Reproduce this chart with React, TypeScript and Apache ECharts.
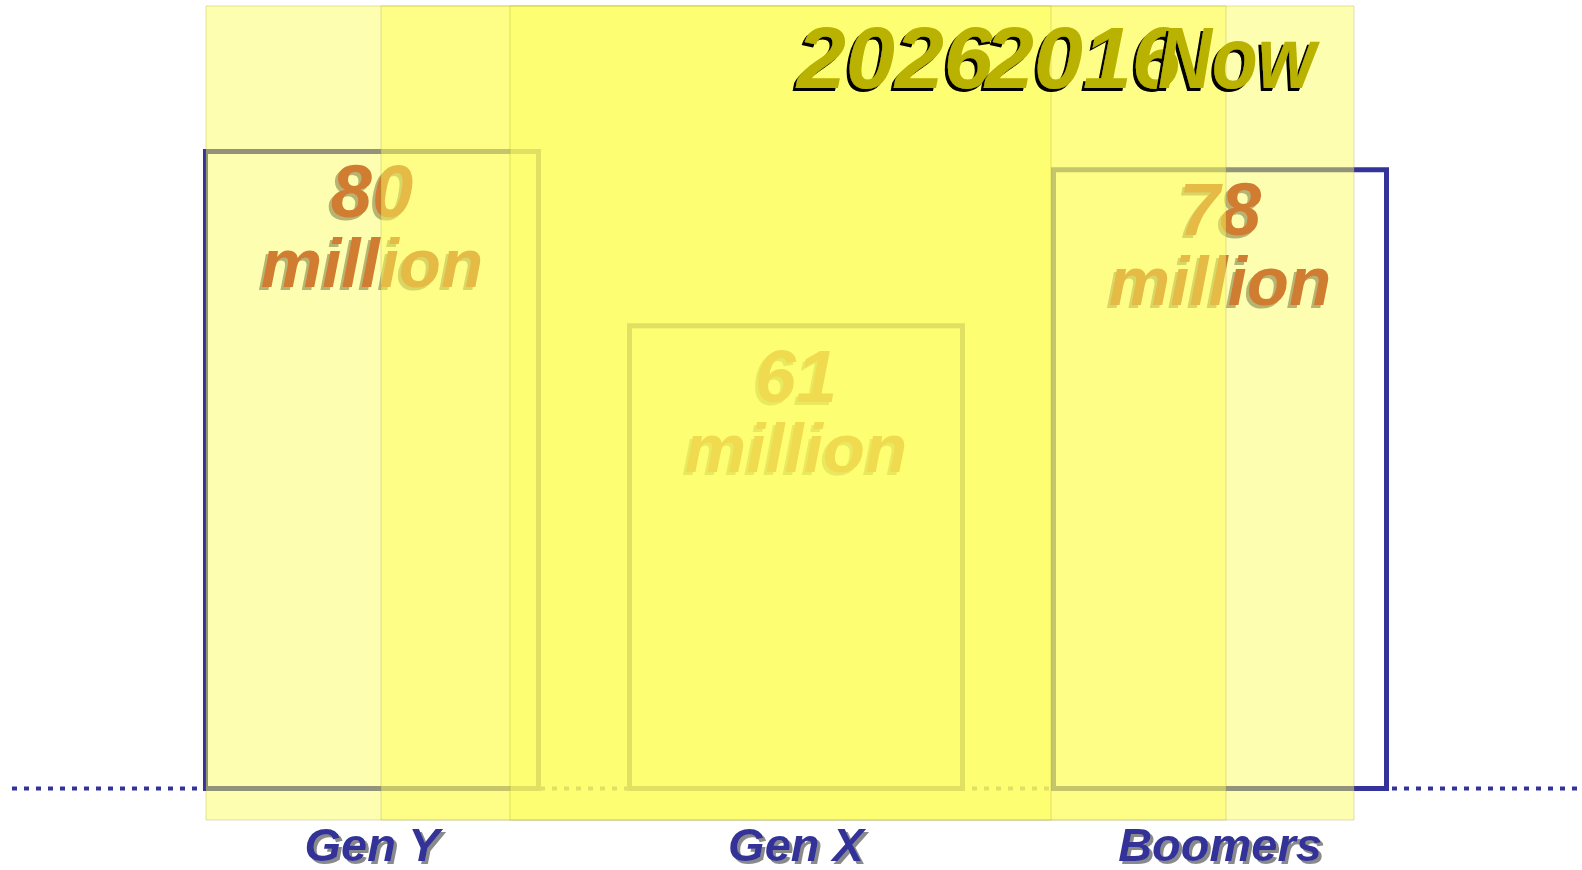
import React, { useEffect, useRef } from 'react';
import * as echarts from 'echarts';

const categories = ['Gen Y', 'Gen X', 'Boomers'];
const populations = [80, 61, 78];
const unitLabel = 'million';
const periods = ['2026', '2016', 'Now'];
const yMin = 10;
const yMax = 80;

export default function App() {
  const ref = useRef<HTMLDivElement>(null);
  useEffect(() => {
    const chart = echarts.init(ref.current!, null, { renderer: 'svg' });
    const font = "'Liberation Sans', Arial, sans-serif";
    const overlayFill = 'rgba(252,252,90,0.48)';
    const overlayStroke = 'rgba(150,150,40,0.3)';
    const labelDistance = [6, 17, 6];
    chart.setOption({
      animation: false,
      grid: { left: 160, right: 150, top: 149, bottom: 79 },
      xAxis: {
        type: 'category',
        data: categories,
        axisLine: { show: false },
        axisTick: { show: false },
        axisLabel: {
          margin: 32,
          fontSize: 47,
          lineHeight: 42,
          fontWeight: 'bold',
          fontStyle: 'italic',
          fontFamily: font,
          color: '#333399',
          textShadowColor: '#8a8a8a',
          textShadowOffsetX: 3,
          textShadowOffsetY: 3,
          textShadowBlur: 0.5,
        },
      },
      yAxis: { type: 'value', min: yMin, max: yMax, startValue: yMin, show: false },
      series: [
        {
          type: 'bar',
          name: 'outline',
          data: populations,
          barWidth: 338,
          z: 1,
          silent: true,
          itemStyle: { color: 'rgba(0,0,0,0)', borderColor: '#333399', borderWidth: 5 },
        },
        {
          type: 'bar',
          name: 'labels',
          data: populations.map((v, i) => ({ value: v, label: { distance: labelDistance[i] } })),
          barWidth: 338,
          barGap: '-100%',
          z: 3,
          silent: true,
          itemStyle: { color: 'rgba(0,0,0,0)' },
          label: {
            show: true,
            position: 'insideTop',
            formatter: (p: any) => `{n|${p.value}}\n{u|${unitLabel}}`,
            fontWeight: 'bold',
            fontStyle: 'italic',
            fontFamily: font,
            color: '#d07d32',
            textShadowColor: '#b5b472',
            textShadowOffsetX: -3,
            textShadowOffsetY: 3,
            textShadowBlur: 0.5,
            rich: {
              n: {
                fontSize: 74,
                lineHeight: 72,
                fontWeight: 'bold',
                fontStyle: 'italic',
                fontFamily: font,
                color: '#d07d32',
                textShadowColor: '#b5b472',
                textShadowOffsetX: -3,
                textShadowOffsetY: 3,
                textShadowBlur: 0.5,
              },
              u: {
                fontSize: 69,
                lineHeight: 72,
                fontWeight: 'bold',
                fontStyle: 'italic',
                fontFamily: font,
                color: '#d07d32',
                textShadowColor: '#b5b472',
                textShadowOffsetX: -3,
                textShadowOffsetY: 3,
                textShadowBlur: 0.5,
              },
            },
          },
        },
      ],
    });
    const baseY = (chart.convertToPixel({ yAxisIndex: 0 }, yMin) as number) - 2.5;
    const periodX = [797, 985, 1158];
    const periodScale = [1, 1, 0.85];
    chart.setOption({
      graphic: [
        {
          type: 'line',
          z: 1,
          silent: true,
          shape: { x1: 12, y1: baseY, x2: 1580, y2: baseY },
          style: { stroke: '#333399', lineWidth: 4, lineDash: [5, 7] },
        },
        {
          type: 'rect',
          z: 2,
          silent: true,
          shape: { x: 206, y: 6, width: 1148, height: 814 },
          style: { fill: overlayFill, stroke: overlayStroke, lineWidth: 1 },
        },
        {
          type: 'rect',
          z: 4,
          silent: true,
          shape: { x: 381, y: 6, width: 845, height: 814 },
          style: { fill: overlayFill, stroke: overlayStroke, lineWidth: 1 },
        },
        {
          type: 'rect',
          z: 4,
          silent: true,
          shape: { x: 510, y: 6, width: 541, height: 814 },
          style: { fill: overlayFill, stroke: overlayStroke, lineWidth: 1 },
        },
        ...periods.map((t, i) => ({
          type: 'text',
          z: 5 + i,
          silent: true,
          x: periodX[i],
          y: 57,
          scaleX: periodScale[i],
          style: {
            text: t,
            fontSize: 88,
            fontWeight: 'bold',
            fontStyle: 'italic',
            fontFamily: font,
            fill: '#bab200',
            align: 'left',
            verticalAlign: 'middle',
            textShadowColor: '#000000',
            textShadowOffsetX: -3,
            textShadowOffsetY: 3,
            textShadowBlur: 0.5,
          },
        })),
      ],
    });
    return () => chart.dispose();
  }, []);
  return (
    <div
      ref={ref}
      style={{ position: 'fixed', left: 0, top: 0, width: 1582, height: 870 }}
    />
  );
}
